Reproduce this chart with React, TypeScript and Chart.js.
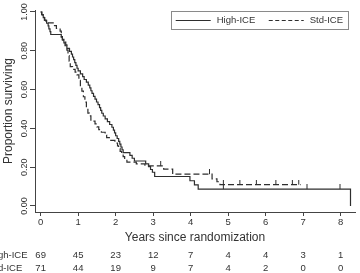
import { useEffect, useRef } from "react";
import { Chart, registerables } from "chart.js";

Chart.register(...registerables);

// Axis ticks
const yearTicks = [0, 1, 2, 3, 4, 5, 6, 7, 8];
const survivalTicks = [0, 0.2, 0.4, 0.6, 0.8, 1];

// Kaplan-Meier estimates: event time (years) and survival after that time
const highTimes = [
  0, 0.03, 0.07, 0.11, 0.16, 0.2, 0.22, 0.25, 0.27, 0.55, 0.58, 0.62, 0.65, 0.7,
  0.77, 0.82, 0.85, 0.88, 0.91, 0.94, 0.97, 1.0, 1.06, 1.12, 1.16, 1.22, 1.27,
  1.31, 1.34, 1.37, 1.41, 1.45, 1.49, 1.53, 1.57, 1.6, 1.63, 1.67, 1.72, 1.78,
  1.84, 1.9, 1.94, 1.97, 2.0, 2.04, 2.08, 2.11, 2.14, 2.17, 2.2, 2.38, 2.44,
  2.5, 2.8, 2.88, 2.93, 2.98, 3.04, 3.98, 4.1, 4.2, 8.26,
];
const highSurv = [
  1.0, 0.986, 0.971, 0.957, 0.942, 0.928, 0.913, 0.899, 0.884, 0.87, 0.855,
  0.841, 0.826, 0.812, 0.797, 0.783, 0.768, 0.754, 0.739, 0.725, 0.71, 0.696,
  0.681, 0.667, 0.652, 0.638, 0.623, 0.609, 0.594, 0.58, 0.565, 0.551, 0.536,
  0.522, 0.507, 0.493, 0.478, 0.464, 0.449, 0.435, 0.42, 0.406, 0.391, 0.377,
  0.362, 0.348, 0.333, 0.319, 0.304, 0.29, 0.275, 0.261, 0.246, 0.232, 0.217,
  0.203, 0.188, 0.174, 0.152, 0.13, 0.109, 0.087, 0.0,
];
const stdTimes = [
  0, 0.03, 0.06, 0.1, 0.14, 0.37, 0.42, 0.52, 0.55, 0.58, 0.62, 0.67, 0.7, 0.73,
  0.76, 0.79, 0.85, 0.92, 0.97, 1.02, 1.06, 1.1, 1.14, 1.18, 1.22, 1.26, 1.3,
  1.34, 1.45, 1.5, 1.55, 1.62, 1.72, 1.76, 1.85, 1.98, 2.05, 2.08, 2.12, 2.16,
  2.2, 2.24, 2.3, 2.55, 2.78, 3.28, 3.52, 4.57, 4.7, 4.78, 6.93,
];
const stdSurv = [
  1.0, 0.986, 0.972, 0.958, 0.944, 0.93, 0.915, 0.901, 0.873, 0.859, 0.845,
  0.831, 0.803, 0.775, 0.746, 0.718, 0.704, 0.69, 0.676, 0.648, 0.62, 0.592,
  0.563, 0.535, 0.507, 0.479, 0.465, 0.437, 0.423, 0.408, 0.394, 0.38, 0.366,
  0.352, 0.338, 0.324, 0.31, 0.296, 0.282, 0.268, 0.254, 0.24, 0.226, 0.217,
  0.207, 0.19, 0.164, 0.14, 0.125, 0.11, 0.11,
];

// Censoring times (years)
const highCensor = [4.87, 7.1, 7.98];
const stdCensor = [3.2, 4.5, 4.87, 5.31, 5.75, 6.27, 6.71, 6.88];

// Number at risk at each year
const riskGroups = ["High-ICE", "Std-ICE"];
const highAtRisk = [69, 45, 23, 12, 7, 4, 4, 3, 1];
const stdAtRisk = [71, 44, 19, 9, 7, 4, 2, 0, 0];

const FONT = "'Liberation Sans', Arial, Helvetica, sans-serif";
const INK = "#333333";
const LINE = "#2e2e2e";

function survivalAt(times: number[], surv: number[], t: number): number {
  let s = surv[0];
  for (let i = 0; i < times.length; i++) {
    if (times[i] <= t) s = surv[i];
  }
  return s;
}

function censorMark(): HTMLCanvasElement {
  const c = document.createElement("canvas");
  c.width = 3;
  c.height = 10;
  const g = c.getContext("2d")!;
  g.fillStyle = LINE;
  g.fillRect(1, 0, 1, 5);
  return c;
}

const legendBox = {
  id: "legendBox",
  afterDraw(chart: any) {
    const { ctx, chartArea } = chart;
    ctx.save();
    ctx.font = `9.5px ${FONT}`;
    const items = [
      { label: "High-ICE", dash: [] as number[] },
      { label: "Std-ICE", dash: [4, 2.5] },
    ];
    const sample = 35;
    const gapText = 6;
    const gapItem = 13.5;
    const pad = 5;
    const widths = items.map((it) => ctx.measureText(it.label).width);
    const total =
      pad * 2 +
      items.reduce((a, _it, i) => a + sample + gapText + widths[i], 0) +
      gapItem * (items.length - 1);
    const right = chartArea.right - 7;
    const left = right - total;
    const top = chartArea.top + 1;
    const h = 18;
    ctx.strokeStyle = "#8a8a8a";
    ctx.lineWidth = 1;
    ctx.strokeRect(Math.round(left) + 0.5, Math.round(top) + 0.5, Math.round(total), h);
    const cy = top + h / 2 + 0.5;
    let x = left + pad;
    items.forEach((it, i) => {
      ctx.strokeStyle = LINE;
      ctx.lineWidth = 1.1;
      ctx.setLineDash(it.dash);
      ctx.beginPath();
      ctx.moveTo(x, cy);
      ctx.lineTo(x + sample, cy);
      ctx.stroke();
      ctx.setLineDash([]);
      x += sample + gapText;
      ctx.fillStyle = INK;
      ctx.textAlign = "left";
      ctx.textBaseline = "middle";
      ctx.fillText(it.label, x, cy);
      x += widths[i] + gapItem;
    });
    ctx.restore();
  },
};

const riskTable = {
  id: "riskTable",
  afterDraw(chart: any) {
    const { ctx } = chart;
    const xs = chart.scales.x;
    const rows = [highAtRisk, stdAtRisk];
    const rowY = [255.5, 268.5];
    ctx.save();
    ctx.font = `9.5px ${FONT}`;
    ctx.fillStyle = INK;
    ctx.textBaseline = "middle";
    rows.forEach((vals, r) => {
      ctx.textAlign = "left";
      ctx.fillText(riskGroups[r], -11, rowY[r]);
      ctx.textAlign = "center";
      vals.forEach((v, i) => {
        ctx.fillText(String(v), xs.getPixelForValue(yearTicks[i]), rowY[r]);
      });
    });
    ctx.restore();
  },
};

export default function App() {
  const ref = useRef<HTMLCanvasElement | null>(null);

  useEffect(() => {
    if (!ref.current) return;
    const mark = censorMark();
    const chart = new Chart(ref.current, {
      type: "line",
      data: {
        datasets: [
          {
            label: "High-ICE",
            data: highTimes.map((t, i) => ({ x: t, y: highSurv[i] })),
            stepped: "before",
            borderColor: LINE,
            borderWidth: 1.2,
            pointRadius: 0,
            fill: false,
          },
          {
            label: "Std-ICE",
            data: stdTimes.map((t, i) => ({ x: t, y: stdSurv[i] })),
            stepped: "before",
            borderColor: LINE,
            borderWidth: 1.2,
            borderDash: [6, 3],
            pointRadius: 0,
            fill: false,
          },
          {
            type: "scatter",
            label: "High-ICE censored",
            data: highCensor.map((t) => ({ x: t, y: survivalAt(highTimes, highSurv, t) })),
            pointStyle: mark,
            pointRadius: 4,
            showLine: false,
          },
          {
            type: "scatter",
            label: "Std-ICE censored",
            data: stdCensor.map((t) => ({ x: t, y: survivalAt(stdTimes, stdSurv, t) })),
            pointStyle: mark,
            pointRadius: 4,
            showLine: false,
          },
        ] as any,
      },
      options: {
        responsive: false,
        maintainAspectRatio: false,
        animation: false,
        devicePixelRatio: 1,
        layout: { padding: { left: 0, right: 0, top: 10, bottom: 28 } },
        plugins: { legend: { display: false }, tooltip: { enabled: false } },
        scales: {
          x: {
            type: "linear",
            min: -0.15,
            max: 8.38,
            afterBuildTicks: (s: any) => {
              s.ticks = yearTicks.map((v) => ({ value: v }));
            },
            afterFit: (s: any) => {
              s.height = 33;
            },
            border: { display: true, color: "#444", width: 1 },
            grid: { drawOnChartArea: false, drawTicks: true, tickLength: 4, color: "#444" },
            ticks: {
              autoSkip: false,
              maxRotation: 0,
              padding: 1,
              color: INK,
              font: { family: FONT, size: 9.5 },
              callback: (v: any) => String(v),
            },
            title: {
              display: true,
              text: "Years since randomization",
              color: INK,
              font: { family: FONT, size: 12 },
              padding: { top: 0, bottom: 0 },
            },
          },
          y: {
            type: "linear",
            min: -0.031,
            max: 1.0103,
            afterBuildTicks: (s: any) => {
              s.ticks = survivalTicks.map((v) => ({ value: v }));
            },
            afterFit: (s: any) => {
              s.width = 35;
            },
            border: { display: true, color: "#444", width: 1 },
            grid: { drawOnChartArea: false, drawTicks: true, tickLength: 5, color: "#444" },
            ticks: {
              autoSkip: false,
              minRotation: 90,
              maxRotation: 90,
              crossAlign: "center",
              padding: -3,
              color: INK,
              font: { family: FONT, size: 9 },
              callback: (v: any) => Number(v).toFixed(2),
            },
            title: {
              display: true,
              text: "Proportion surviving",
              color: INK,
              font: { family: FONT, size: 12 },
              padding: { top: 1.5, bottom: 0 },
            },
          },
        },
      },
      plugins: [legendBox, riskTable],
    });
    return () => chart.destroy();
  }, []);

  return (
    <div style={{ position: "fixed", left: 0, top: 0, width: 360, height: 273, background: "#fff" }}>
      <canvas ref={ref} width={360} height={273} style={{ display: "block" }} />
    </div>
  );
}
